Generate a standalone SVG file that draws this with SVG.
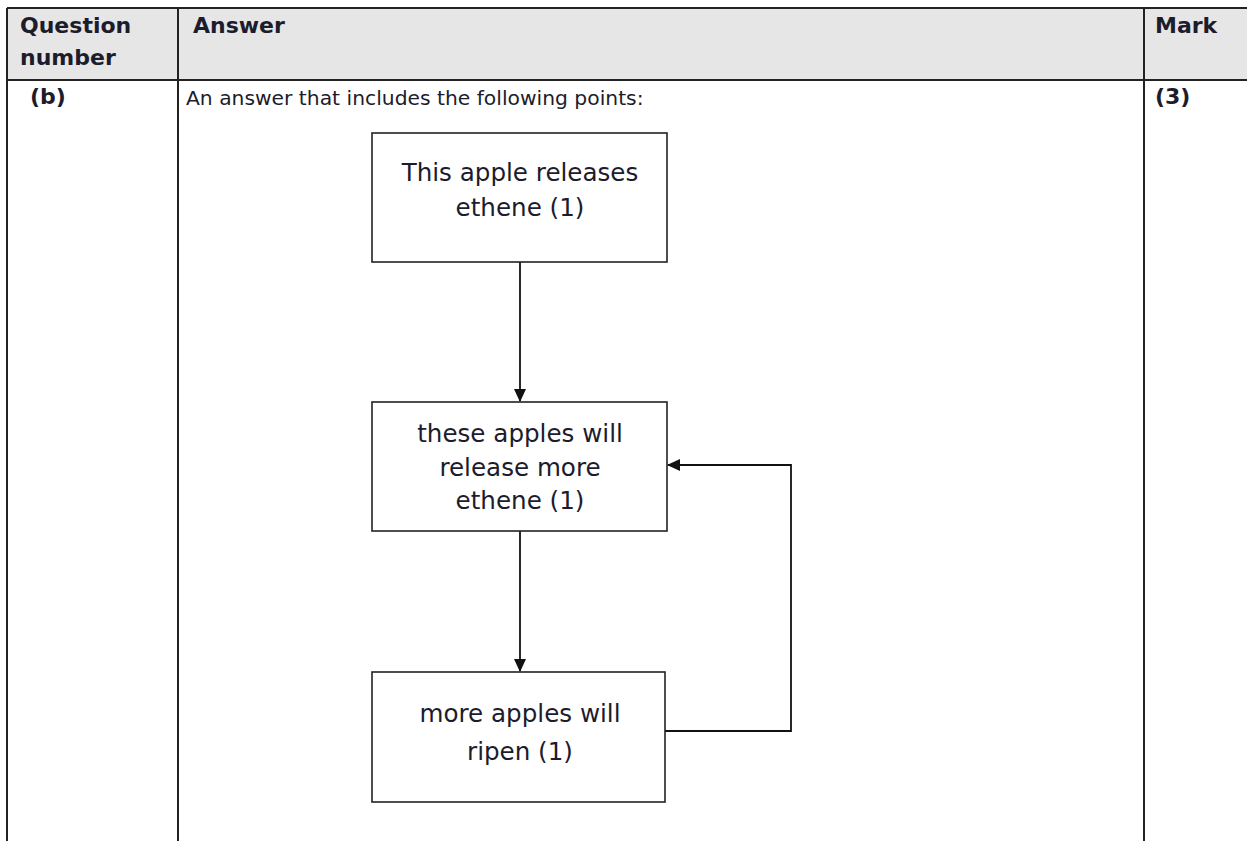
<svg xmlns="http://www.w3.org/2000/svg" width="1247" height="841" viewBox="0 0 1247 841">
<style>
.t{font-family:"DejaVu Sans",sans-serif;fill:#1c1c2c}
.h{font-weight:bold;font-size:22px}
.p{font-size:20.3px}
.b{font-size:24.6px;text-anchor:middle}
.grid{stroke:#222;stroke-width:2;fill:none}
.box{fill:#fff;stroke:#222;stroke-width:1.6}
.con{stroke:#111;stroke-width:1.8;fill:none}
</style>
<defs>
<marker id="ah" markerWidth="13" markerHeight="12" refX="12" refY="6" orient="auto" markerUnits="userSpaceOnUse">
<path d="M0,0 L13,6 L0,12 Z" fill="#111"/>
</marker>
</defs>
<rect width="1247" height="841" fill="#fff"/>
<g id="table">
<rect x="7" y="8" width="1240" height="72" fill="#e6e6e6"/>
<path class="grid" d="M7,8 H1247 M7,80 H1247 M7,8 V841 M178,8 V841 M1144,8 V841"/>
<text class="t h" x="20" y="33">Question</text>
<text class="t h" x="20" y="65">number</text>
<text class="t h" x="193" y="33">Answer</text>
<text class="t h" x="1155" y="33">Mark</text>
<text class="t h" x="30" y="104">(b)</text>
<text class="t h" x="1155" y="104">(3)</text>
<text class="t p" x="186" y="105">An answer that includes the following points:</text>
</g>
<g id="connectors">
<line class="con" x1="520" y1="262" x2="520" y2="401" marker-end="url(#ah)"/>
<line class="con" x1="520" y1="531" x2="520" y2="671" marker-end="url(#ah)"/>
<polyline class="con" points="665,731 791,731 791,465 668,465" marker-end="url(#ah)"/>
</g>
<g id="n1">
<rect class="box" x="372" y="133" width="295" height="129"/>
<text class="t b" x="520" y="181">This apple releases</text>
<text class="t b" x="520" y="216">ethene (1)</text>
</g>
<g id="n2">
<rect class="box" x="372" y="402" width="295" height="129"/>
<text class="t b" x="520" y="442">these apples will</text>
<text class="t b" x="520" y="476">release more</text>
<text class="t b" x="520" y="509">ethene (1)</text>
</g>
<g id="n3">
<rect class="box" x="372" y="672" width="293" height="130"/>
<text class="t b" x="520" y="722">more apples will</text>
<text class="t b" x="520" y="760">ripen (1)</text>
</g>
</svg>
